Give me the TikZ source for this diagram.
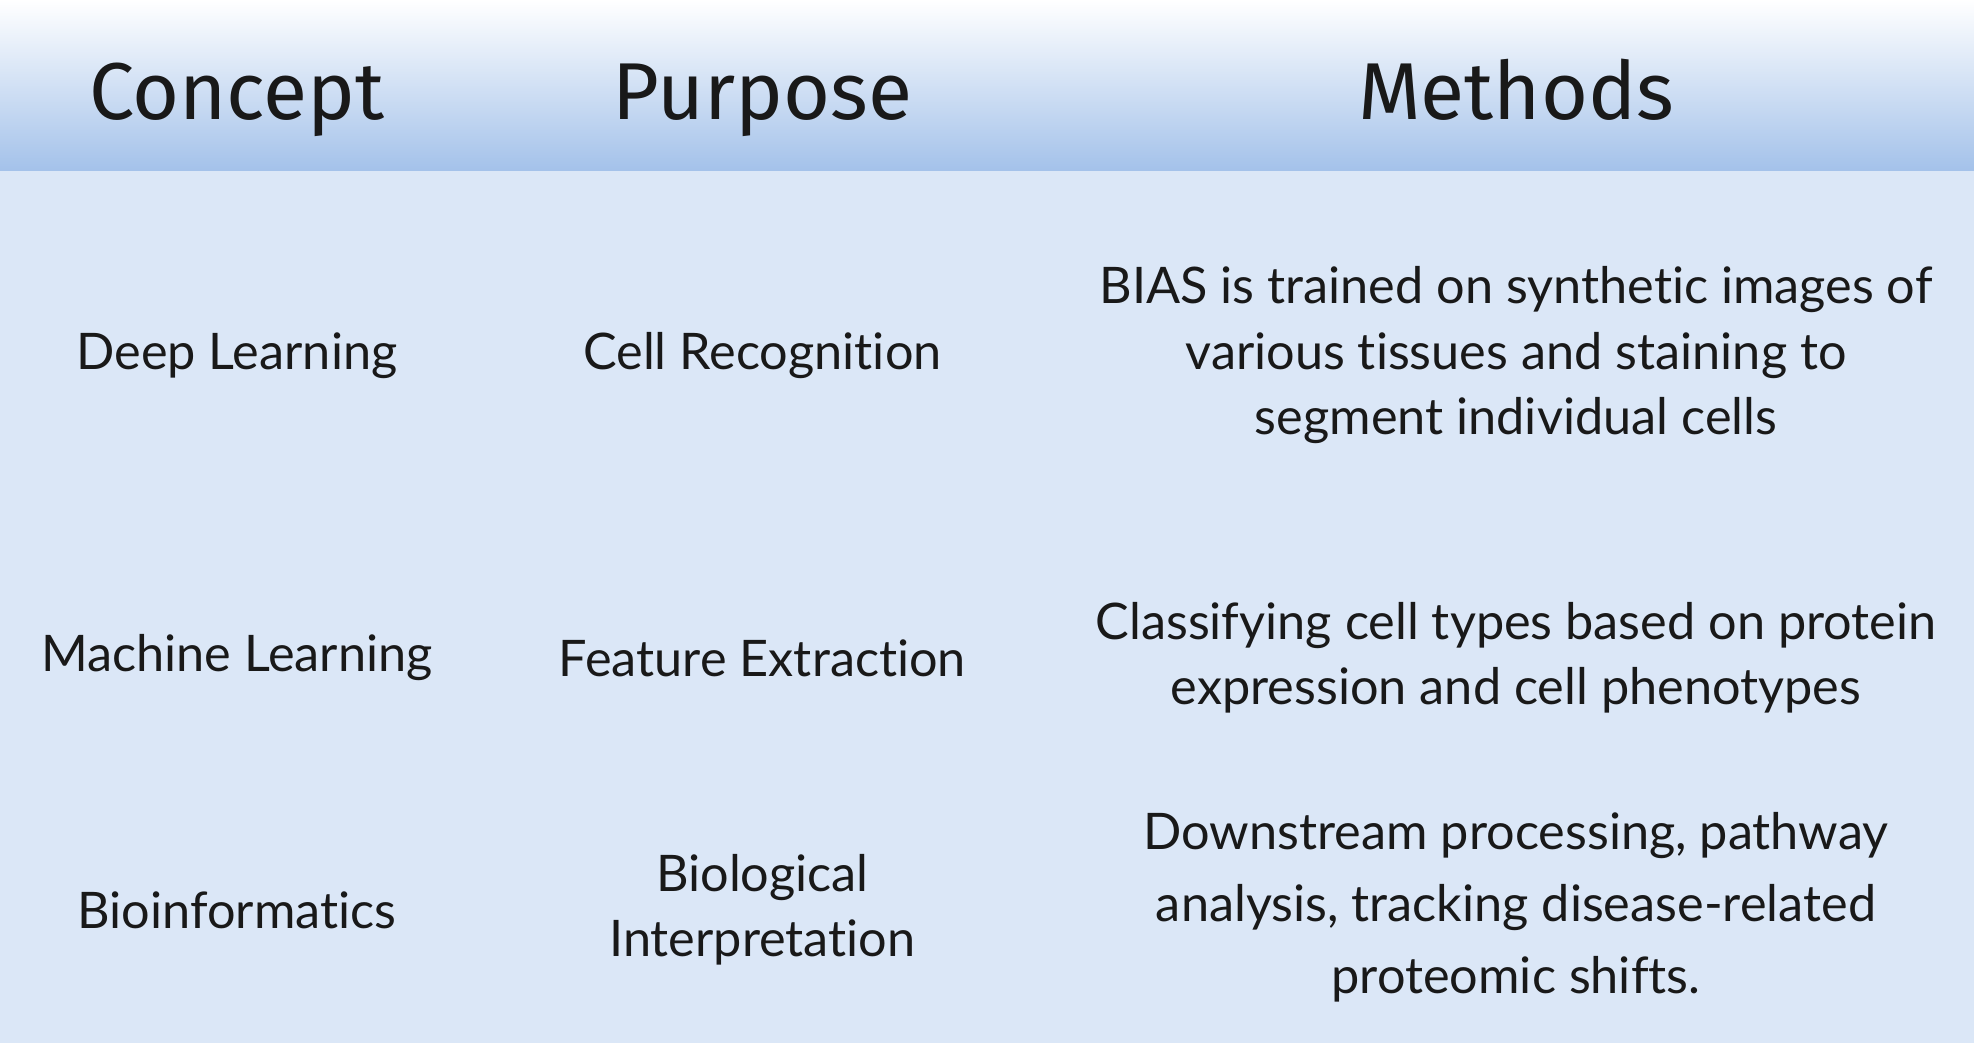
\documentclass[tikz,border=0pt]{standalone}
\usepackage{fontspec}
\setmainfont{Lato}[RawFeature={-liga;-dlig}]
\newfontfamily\hfont{Fira Sans}
\begin{document}
\begin{tikzpicture}[x=1pt,y=-1pt,
  hd/.style={font=\hfont\fontsize{64}{70}\selectfont, text=black!90, anchor=base},
  cell/.style={font=\fontsize{40}{52}\selectfont, align=center, text=black!90}]
\useasboundingbox (0,0) rectangle (1568,828);
\fill[fill={rgb,255:red,219;green,231;blue,247}] (0,0) rectangle (1568,828);
\shade[top color=white, bottom color={rgb,255:red,164;green,194;blue,234}] (0,0) rectangle (1568,135);
\fill[white] (1566,0) rectangle (1568,828);
\node[hd] (h1) at (188,95) {Concept};
\node[hd] (h2) at (605,95) {Purpose};
\node[hd] (h3) at (1203,95) {Methods};
\node[cell] (a1) at (188,282) {Deep Learning};
\node[cell] (b1) at (605,282) {Cell Recognition};
\node[cell] (c1) at (1203,282) {BIAS is trained on synthetic images of\\various tissues and staining to\\segment individual cells};
\node[cell] (a2) at (188,522) {Machine Learning};
\node[cell] (b2) at (605,522) {Feature Extraction};
\node[cell] (c2) at (1203,522) {Classifying cell types based on protein\\expression and cell phenotypes};
\node[cell] (a3) at (188,722) {Bioinformatics};
\node[cell] (b3) at (605,722) {Biological\\Interpretation};
\node[cell, font=\fontsize{40}{57}\selectfont] (c3) at (1203,720) {Downstream processing, pathway\\analysis, tracking disease-related\\proteomic shifts.};
\end{tikzpicture}
\end{document}
